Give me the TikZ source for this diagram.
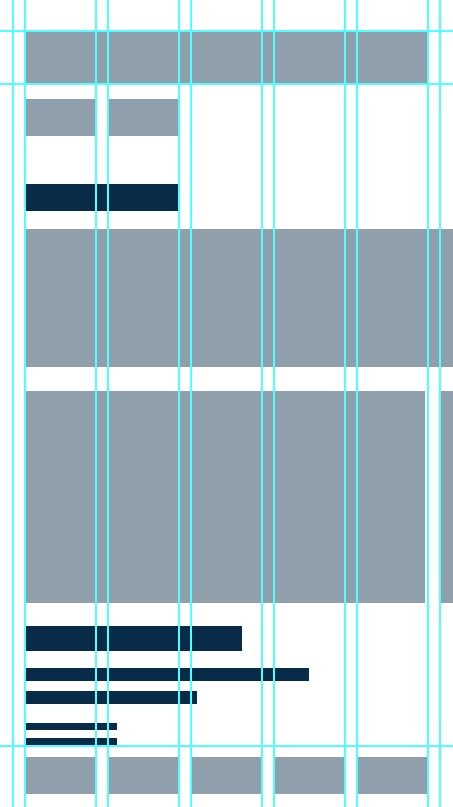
\documentclass[tikz,border=0pt]{standalone}
\usepackage{tikz}
\definecolor{slate}{HTML}{8FA0AC}
\definecolor{navy}{HTML}{082B47}
\definecolor{guidecyan}{HTML}{50FFFF}

\begin{document}
\begin{tikzpicture}[
  x=1pt,y=-1pt,
  block/.style={fill=slate},
  bar/.style={fill=navy},
  guide line/.style={draw=guidecyan,line width=1.5pt}
]
  \useasboundingbox (0,0) rectangle (453,807);
  % header
  \fill[block] (25,32) rectangle (428,83);
  \fill[block] (25,99) rectangle (96,136);
  \fill[block] (108,99) rectangle (179,136);
  \fill[bar] (25,184) rectangle (179,211);
  % hero blocks
  \fill[block] (25,229) rectangle (453,367);
  \fill[block] (25,391) rectangle (425,603);
  \fill[block] (441,391) rectangle (453,603);
  % text bars
  \fill[bar] (25,626) rectangle (242,651);
  \fill[bar] (25,668) rectangle (309,681);
  \fill[bar] (25,691) rectangle (197,704);
  \fill[bar] (25,723) rectangle (117,730);
  \fill[bar] (25,738) rectangle (117,745);
  % footer
  \foreach \x in {25,108,191,274,357}
    \fill[block] (\x,757) rectangle (\x+70,794);
  % guides
  \foreach \x in {13,25,96,108,179,191,262,274,345,357,428,440}
    \draw[guide line] (\x,0) -- (\x,807);
  \foreach \y in {31,84,746}
    \draw[guide line] (0,\y) -- (453,\y);
\end{tikzpicture}
\end{document}
